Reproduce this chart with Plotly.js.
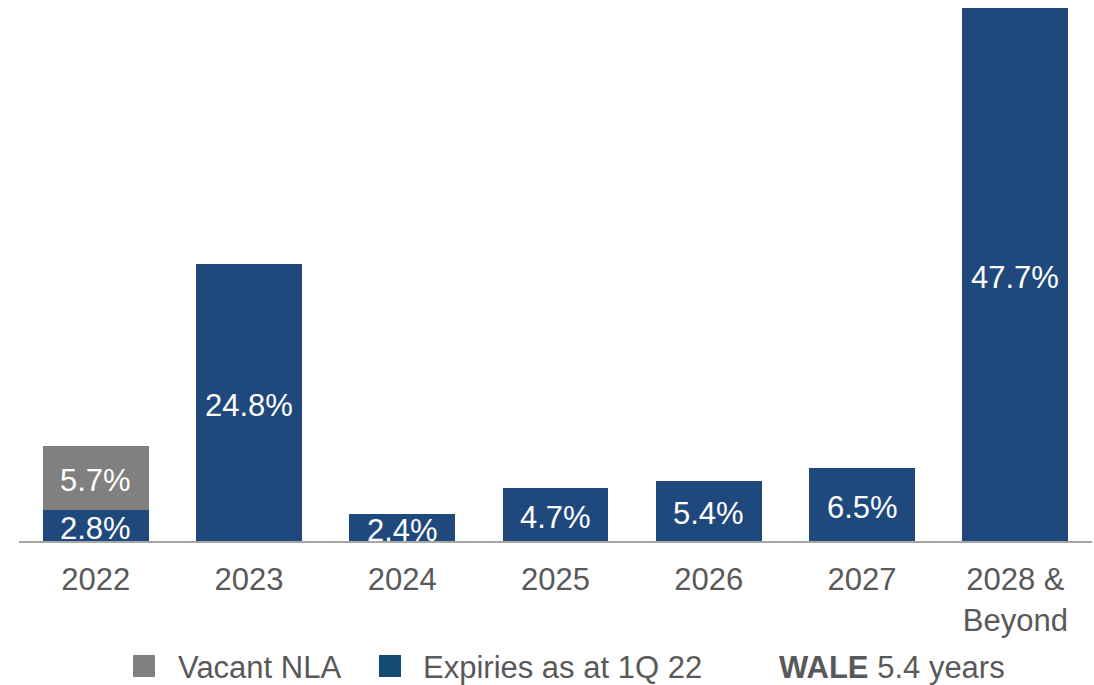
<!DOCTYPE html>
<html>
<head>
<meta charset="utf-8">
<script src="https://cdn.plot.ly/plotly-3.0.1.min.js"></script>
<style>
html,body{margin:0;padding:0;background:#fff;}
#chart{width:1094px;height:685px;}
</style>
</head>
<body>
<div id="chart"></div>
<script>
// Data
var categories = ["2022", "2023", "2024", "2025", "2026", "2027", "2028 &<br>Beyond"];
var expiries = [2.8, 24.8, 2.4, 4.7, 5.4, 6.5, 47.7];
var vacant = [5.7, null, null, null, null, null, null];
var seriesNames = ["Vacant NLA", "Expiries as at 1Q 22"];
var waleLabel = "<b>WALE</b> 5.4 years";

var FONT = "Liberation Sans, Arial, sans-serif";
var BLUE = "#1F497D";
var GRAY = "#808080";
var LEGEND_BLUE = "#124A73";
var TEXT = "#595959";

var W = 1094, H = 685;
var M = {l: 19, r: 2, t: 8, b: 144};
var pw = W - M.l - M.r, ph = H - M.t - M.b;
function px2x(px){ return (px - M.l) / pw; }
function py2y(py){ return (H - M.b - py) / ph; }

var traces = [
  {type: "bar", name: seriesNames[1], x: categories, y: expiries,
   marker: {color: BLUE}, hoverinfo: "skip", showlegend: false},
  {type: "bar", name: seriesNames[0], x: categories, y: vacant,
   marker: {color: GRAY}, hoverinfo: "skip", showlegend: false}
];

var annotations = [];
categories.forEach(function(c, i){
  if (expiries[i] != null) {
    annotations.push({x: i, y: expiries[i] / 2, xref: "x", yref: "y", yshift: -3,
      text: expiries[i].toFixed(1) + "%", showarrow: false,
      font: {family: FONT, size: 31, color: "#ffffff"}});
  }
  if (vacant[i] != null) {
    annotations.push({x: i, y: expiries[i] + vacant[i] / 2, xref: "x", yref: "y", yshift: -3,
      text: vacant[i].toFixed(1) + "%", showarrow: false,
      font: {family: FONT, size: 31, color: "#ffffff"}});
  }
});

// Manual legend
var legendY = py2y(667);
var legendItems = [
  {sq: 133, tx: 176, color: GRAY, text: seriesNames[0]},
  {sq: 379, tx: 421, color: LEGEND_BLUE, text: seriesNames[1]}
];
var shapes = [];
legendItems.forEach(function(it){
  shapes.push({type: "rect", xref: "paper", yref: "paper",
    x0: px2x(it.sq), x1: px2x(it.sq + 22), y0: py2y(677), y1: py2y(655),
    fillcolor: it.color, line: {width: 0}});
  annotations.push({xref: "paper", yref: "paper", x: px2x(it.tx), y: legendY,
    xanchor: "left", yanchor: "middle", text: it.text, showarrow: false,
    font: {family: FONT, size: 31, color: TEXT}});
});
annotations.push({xref: "paper", yref: "paper", x: px2x(777), y: legendY,
  xanchor: "left", yanchor: "middle", text: waleLabel, showarrow: false,
  font: {family: FONT, size: 31, color: TEXT}});

var layout = {
  width: W, height: H,
  margin: M,
  paper_bgcolor: "#ffffff", plot_bgcolor: "#ffffff",
  barmode: "stack", bargap: 0.31,
  showlegend: false,
  font: {family: FONT, size: 31, color: TEXT},
  xaxis: {type: "category", showline: true, linecolor: "#A6A6A6", linewidth: 2,
    ticks: "", showgrid: false, zeroline: false, fixedrange: true,
    ticklabelstandoff: 10,
    tickfont: {family: FONT, size: 31, color: TEXT}},
  yaxis: {range: [0, 47.7], visible: false, showgrid: false, zeroline: false, fixedrange: true},
  annotations: annotations,
  shapes: shapes
};

Plotly.newPlot("chart", traces, layout, {displayModeBar: false, staticPlot: true});
</script>
</body>
</html>
